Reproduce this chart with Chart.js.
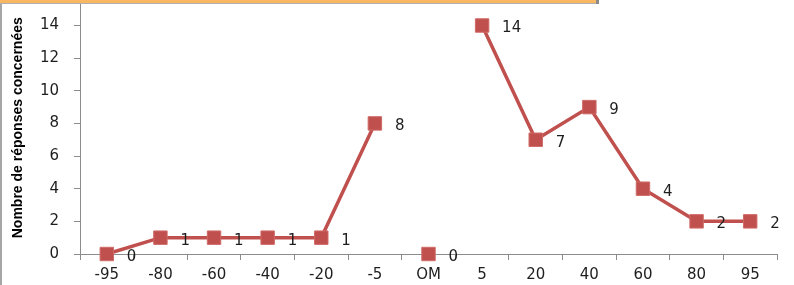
<!DOCTYPE html>
<html>
<head>
<meta charset="utf-8">
<script src="https://cdn.jsdelivr.net/npm/chart.js@4/dist/chart.umd.min.js"></script>
<style>
  html, body { margin: 0; padding: 0; background: #fff; overflow: hidden; }
  #wrap { width: 794px; height: 285px; position: relative; overflow: hidden; }
  #chart { position: absolute; left: 0; top: -9px; }
</style>
</head>
<body>
<div id="wrap"><canvas id="chart" width="794" height="294"></canvas></div>
<script>
// categories on the x axis (OM stands alone, not joined to its neighbours)
const categories = ['-95', '-80', '-60', '-40', '-20', '-5', 'OM', '5', '20', '40', '60', '80', '95'];
const responses = [0, 1, 1, 1, 1, 8, 0, 14, 7, 9, 4, 2, 2];
const isolatedCategory = 'OM';
const yTicks = [0, 2, 4, 6, 8, 10, 12, 14];

const red = '#C0504D';
const textColor = '#1e1e1e';
const axisGrey = '#8c8c8c';
const isolatedIndex = categories.indexOf(isolatedCategory);
const shift = 9; // canvas is moved up by this much so the plot reaches the top edge

// draws the value to the right of every marker
const valueLabels = {
    id: 'valueLabels',
    afterDatasetsDraw(chart) {
        const ctx = chart.ctx;
        const meta = chart.getDatasetMeta(0);
        ctx.save();
        ctx.font = '15px "DejaVu Sans"';
        ctx.fillStyle = textColor;
        ctx.textAlign = 'left';
        ctx.textBaseline = 'middle';
        meta.data.forEach(function(pt, i) {
            ctx.fillText(String(responses[i]), pt.x + 20, pt.y + 3);
        });
        ctx.restore();
    }
};

// frame leftovers from the original sheet: left border and orange box edge
const frame = {
    id: 'frame',
    afterDraw(chart) {
        const ctx = chart.ctx;
        ctx.save();
        ctx.fillStyle = '#a6a6a6';
        ctx.fillRect(0, 0, 2, chart.height);
        ctx.fillStyle = '#f9b762';
        ctx.fillRect(0, shift, 596, 3);
        ctx.fillStyle = '#8a8a8a';
        ctx.fillRect(596, shift, 3, 4);
        ctx.fillStyle = '#b0b0b0';
        ctx.fillRect(0, shift + 3, 596, 1);
        ctx.restore();
    }
};

const ctx = document.getElementById('chart').getContext('2d');
new Chart(ctx, {
    type: 'line',
    data: {
        labels: categories,
        datasets: [{
            data: responses,
            borderColor: red,
            backgroundColor: red,
            borderWidth: 3.5,
            pointStyle: 'rect',
            pointRadius: 9.5,
            pointBorderWidth: 1,
            pointBorderColor: '#cf6a67',
            pointBackgroundColor: red,
            tension: 0,
            clip: false,
            segment: {
                borderColor: function(c) {
                    if (c.p0DataIndex === isolatedIndex || c.p1DataIndex === isolatedIndex) return 'transparent';
                    return undefined;
                }
            }
        }]
    },
    options: {
        responsive: false,
        animation: false,
        layout: { padding: { top: 0, right: 17, bottom: 0, left: 0 } },
        plugins: {
            legend: { display: false },
            tooltip: { enabled: false }
        },
        scales: {
            x: {
                offset: true,
                grid: {
                    offset: true,
                    drawOnChartArea: false,
                    drawTicks: true,
                    tickLength: 6,
                    color: axisGrey
                },
                border: { color: axisGrey, width: 1 },
                ticks: {
                    color: textColor,
                    font: { family: 'DejaVu Sans', size: 15 },
                    padding: 6,
                    maxRotation: 0,
                    autoSkip: false
                },
                afterFit(scale) {
                    scale.height = 31;
                    scale.paddingLeft = 0;
                    scale.paddingRight = 0;
                }
            },
            y: {
                min: 0,
                max: 15.47,
                afterBuildTicks(scale) {
                    scale.ticks = yTicks.map(function(v) { return { value: v }; });
                },
                grid: {
                    drawOnChartArea: false,
                    drawTicks: true,
                    tickLength: 6,
                    color: axisGrey
                },
                border: { color: axisGrey, width: 1 },
                ticks: {
                    color: textColor,
                    font: { family: 'DejaVu Sans', size: 15 },
                    padding: 15
                },
                title: {
                    display: true,
                    text: 'Nombre de réponses concernées',
                    color: '#000',
                    font: { family: 'Liberation Sans', size: 14, weight: 'bold' },
                    padding: { top: 10, bottom: 0 }
                },
                afterFit(scale) {
                    scale.width = 80;
                    scale.paddingTop = 0;
                    scale.paddingBottom = 0;
                }
            }
        }
    },
    plugins: [valueLabels, frame]
});
</script>
</body>
</html>
